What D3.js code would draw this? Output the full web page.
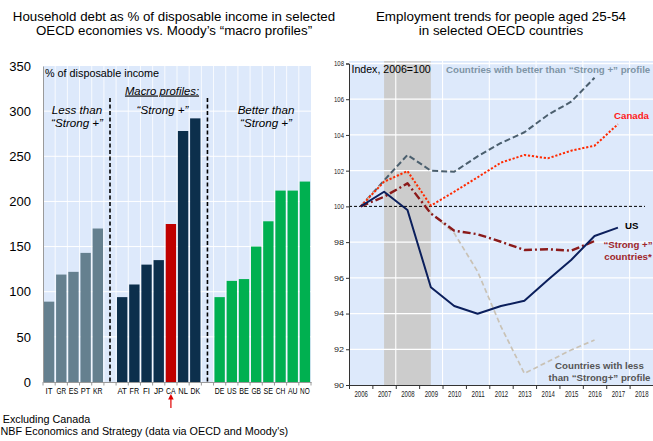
<!DOCTYPE html>
<html>
<head>
<meta charset="utf-8">
<script src="https://cdn.jsdelivr.net/npm/d3@7"></script>
<style>
  html, body { margin: 0; padding: 0; background: #fff; }
  svg { display: block; font-family: "Liberation Sans", Arial, sans-serif; }
</style>
</head>
<body>
<svg id="chart" width="653" height="441"></svg>
<script>
// ---------- Household debt by Moody's macro profile ----------
const lessCountries   = ["IT", "GR", "ES", "PT", "KR"];
const lessValues      = [89, 119, 122, 143, 170];
const strongCountries = ["AT", "FR", "FI", "JP", "CA", "NL", "DK"];
const strongValues    = [94, 108, 130, 135, 175, 278, 292];
const betterCountries = ["DE", "US", "BE", "GB", "SE", "CH", "AU", "NO"];
const betterValues    = [94, 112, 114, 150, 178, 212, 212, 222];
const debtTicks       = [0, 50, 100, 150, 200, 250, 300, 350];

// ---------- Employment, people aged 25-54 (index, 2006 = 100) ----------
const years          = [2006, 2007, 2008, 2009, 2010, 2011, 2012, 2013, 2014, 2015, 2016, 2017];
const betterSeries   = [100, 101.45, 102.88, 102.0, 101.94, 102.8, 103.55, 104.15, 105.12, 105.86, 107.2];
const canadaSeries   = [100, 101.38, 101.98, 100.04, 100.82, 101.63, 102.45, 102.88, 102.69, 103.12, 103.4, 104.6];
const strongSeries   = [100, 100.54, 101.29, 99.6, 98.64, 98.44, 98.02, 97.56, 97.6, 97.52, 98.06];
const usSeries       = [100, 100.82, 99.8, 95.47, 94.42, 93.99, 94.42, 94.72, 95.88, 97.0, 98.34, 98.81];
const lessSeries     = [100, 101.4, 101.9, 99.65, 98.5, 96.35, 93.27, 90.65, 91.3, 91.96, 92.52];
const indexTicks     = [90, 92, 94, 96, 98, 100, 102, 104, 106, 108];
const yearLabels     = [2006, 2007, 2008, 2009, 2010, 2011, 2012, 2013, 2014, 2015, 2016, 2017, 2018];
const recession      = [2007, 2009];

const svg = d3.select("#chart");
const BG = "#dde9fb";

// =============== Left panel: bar chart ===============
const slots = [...lessCountries, "_gap1", ...strongCountries, "_gap2", ...betterCountries];
const bars = [
  ...lessCountries.map((c, i) => ({ c, v: lessValues[i], fill: "#65808f" })),
  ...strongCountries.map((c, i) => ({ c, v: strongValues[i], fill: c === "CA" ? "#c00000" : "#0c2f4c" })),
  ...betterCountries.map((c, i) => ({ c, v: betterValues[i], fill: "#00b050" }))
];

const lx = d3.scaleBand().domain(slots).range([43, 311]).paddingInner(0.15).paddingOuter(0.075);
const ly = d3.scaleLinear().domain([0, 350]).range([382, 66]);
const gapHalf = (lx.step() - lx.bandwidth()) / 2;
const boundaries = slots.map(s => lx(s) - gapHalf).concat([lx(slots[slots.length - 1]) + lx.bandwidth() + gapHalf]);

const left = svg.append("g");
left.append("rect").attr("x", 43).attr("y", 66).attr("width", 311 - 43).attr("height", 382 - 66).attr("fill", BG);

// white grid
left.append("g").selectAll("line").data(debtTicks.filter(t => t > 0 && t < 350)).join("line")
  .attr("x1", 43).attr("x2", 311).attr("y1", d => ly(d)).attr("y2", d => ly(d))
  .attr("stroke", "#fff").attr("stroke-width", 1);
left.append("g").selectAll("line").data(boundaries.slice(1, -1)).join("line")
  .attr("x1", d => d).attr("x2", d => d).attr("y1", 66).attr("y2", 382)
  .attr("stroke", "#fff").attr("stroke-width", 0.8);

// bars
left.append("g").selectAll("rect").data(bars).join("rect")
  .attr("x", d => lx(d.c)).attr("width", lx.bandwidth())
  .attr("y", d => ly(d.v)).attr("height", d => ly(0) - ly(d.v))
  .attr("fill", d => d.fill);

// dashed group separators
["_gap1", "_gap2"].forEach(g => {
  const x = lx(g) + lx.bandwidth() / 2;
  left.append("line").attr("x1", x).attr("x2", x).attr("y1", 98).attr("y2", 382)
    .attr("stroke", "#000").attr("stroke-width", 1.6).attr("stroke-dasharray", "4,2.5");
});

// y axis
const lyAxis = left.append("g").attr("transform", "translate(43,0)")
  .call(d3.axisLeft(ly).tickValues(debtTicks).tickSize(0).tickPadding(12));
lyAxis.select(".domain").attr("stroke", "#9a9a9a");
lyAxis.selectAll("text").attr("font-size", 13).attr("fill", "#000").attr("font-family", "Liberation Sans, Arial, sans-serif");

// x axis: labels under bars, ticks at slot boundaries
const lxAxis = left.append("g").attr("transform", "translate(0,382)")
  .call(d3.axisBottom(lx).tickSize(0).tickPadding(6).tickFormat(d => d.startsWith("_") ? "" : d));
lxAxis.select(".domain").attr("stroke", "#9a9a9a");
lxAxis.selectAll("text").attr("font-size", 8.6).attr("fill", "#000").attr("font-family", "Liberation Sans, Arial, sans-serif")
  .filter(d => !d.startsWith("_"))
  .attr("textLength", d => d === "IT" || d === "FI" ? 7 : 9.6).attr("lengthAdjust", "spacingAndGlyphs");
left.append("g").selectAll("line").data(boundaries).join("line")
  .attr("x1", d => d).attr("x2", d => d).attr("y1", 382).attr("y2", 385.5)
  .attr("stroke", "#9a9a9a");

// marker under Canada
const caX = lx("CA") + lx.bandwidth() / 2;
left.append("line").attr("x1", caX).attr("x2", caX).attr("y1", 398).attr("y2", 408)
  .attr("stroke", "#e00000").attr("stroke-width", 1.2);
left.append("path").attr("d", `M${caX - 2.8},${399.5} L${caX},${394} L${caX + 2.8},${399.5} Z`).attr("fill", "#e00000");

// panel annotations
left.append("text").attr("x", 45).attr("y", 77).attr("font-size", 10.8).text("% of disposable income");
left.append("text").attr("x", 162).attr("y", 94.5).attr("text-anchor", "middle").attr("font-size", 11.3)
  .attr("font-style", "italic").attr("text-decoration", "underline").text("Macro profiles:");
const groupLabels = [
  { x: 77, lines: ["Less than", "\u201cStrong +\u201d"] },
  { x: 162.5, lines: ["\u201cStrong +\u201d"] },
  { x: 266, lines: ["Better than", "\u201cStrong +\u201d"] }
];
groupLabels.forEach(g => {
  g.lines.forEach((t, i) => {
    left.append("text").attr("x", g.x).attr("y", 114 + i * 13.3).attr("text-anchor", "middle")
      .attr("font-size", 11.6).attr("font-style", "italic").text(t);
  });
});

// title
left.append("text").attr("x", 174).attr("y", 20.5).attr("text-anchor", "middle").attr("font-size", 13.3)
  .text("Household debt as % of disposable income in selected");
left.append("text").attr("x", 174).attr("y", 35).attr("text-anchor", "middle").attr("font-size", 13.3)
  .text("OECD economies vs. Moody\u2019s \u201cmacro profiles\u201d");

// notes
svg.append("text").attr("x", 2.7).attr("y", 422.5).attr("font-size", 10.8).text("Excluding Canada");
svg.append("text").attr("x", 0.5).attr("y", 435).attr("font-size", 10.8)
  .text("NBF Economics and Strategy (data via OECD and Moody's)");

// =============== Right panel: line chart ===============
const rx = d3.scaleLinear().domain([2005.5, 2018.5]).range([349, 653]);
const ry = d3.scaleLinear().domain([90, 108]).range([385, 63.5]);

const right = svg.append("g");
right.append("rect").attr("x", 349).attr("y", 61).attr("width", 653 - 349).attr("height", 385 - 61).attr("fill", BG);
right.append("rect").attr("x", rx(recession[0])).attr("y", 61)
  .attr("width", rx(recession[1]) - rx(recession[0])).attr("height", 385 - 61).attr("fill", "#cccccc");

right.append("g").selectAll("line").data(indexTicks.filter(t => t > 90 && t !== 100)).join("line")
  .attr("x1", 349).attr("x2", 653).attr("y1", d => ry(d)).attr("y2", d => ry(d))
  .attr("stroke", "#fff").attr("stroke-width", 1.3);
right.append("g").selectAll("line").data([2007.5, 2009.5, 2011.5, 2013.5, 2015.5, 2017.5]).join("line")
  .attr("x1", d => rx(d)).attr("x2", d => rx(d)).attr("y1", 61).attr("y2", 385)
  .attr("stroke", "#fff").attr("stroke-width", 1.1);

// reference line at 100
right.append("line").attr("x1", 349).attr("x2", 645).attr("y1", ry(100)).attr("y2", ry(100))
  .attr("stroke", "#000").attr("stroke-width", 1).attr("stroke-dasharray", "3,2");

const line = d3.line().x((d, i) => rx(years[i])).y(d => ry(d));
const series = [
  { data: betterSeries, color: "#4b5f6e", width: 2, dash: "6,3" },
  { data: lessSeries,   color: "#c9c2b5", width: 1.7, dash: "5,3" },
  { data: canadaSeries, color: "#ff2a00", width: 2, dash: "2.2,1.8" },
  { data: strongSeries, color: "#8b1a1a", width: 2.4, dash: "8,3,2,3" },
  { data: usSeries,     color: "#0b1f5c", width: 2, dash: null }
];
series.forEach(s => {
  right.append("path").datum(s.data).attr("d", line).attr("fill", "none")
    .attr("stroke", s.color).attr("stroke-width", s.width)
    .attr("stroke-dasharray", s.dash).attr("stroke-linejoin", "round");
});

// axes
const ryAxis = right.append("g").attr("transform", "translate(349,0)")
  .call(d3.axisLeft(ry).tickValues(indexTicks).tickSize(3).tickPadding(2));
ryAxis.select(".domain").attr("stroke", "#333");
ryAxis.selectAll(".tick line").attr("stroke", "#333");
ryAxis.selectAll("text").attr("font-size", 7.5).attr("fill", "#222")
  .attr("font-family", "Liberation Sans, Arial, sans-serif")
  .attr("textLength", 10).attr("lengthAdjust", "spacingAndGlyphs");

const rxTicks = right.append("g").attr("transform", "translate(0,385)")
  .call(d3.axisBottom(rx).tickValues(d3.range(2005.5, 2019, 1)).tickSize(4).tickFormat(""));
rxTicks.select(".domain").attr("stroke", "#333");
rxTicks.selectAll(".tick line").attr("stroke", "#333");
const rxLabels = right.append("g").attr("transform", "translate(0,385)")
  .call(d3.axisBottom(rx).tickValues(yearLabels).tickSize(0).tickPadding(6.5).tickFormat(d3.format("d")));
rxLabels.select(".domain").remove();
rxLabels.selectAll("text").attr("font-size", 8.3).attr("fill", "#222")
  .attr("font-family", "Liberation Sans, Arial, sans-serif")
  .attr("textLength", 13.4).attr("lengthAdjust", "spacingAndGlyphs");

// series labels
right.append("text").attr("x", 351.5).attr("y", 72.5).attr("font-size", 10.6).text("Index, 2006=100");
const bold = (x, y, txt, color, anchor) =>
  right.append("text").attr("x", x).attr("y", y).attr("font-size", 9.7).attr("font-weight", "bold")
    .attr("fill", color).attr("text-anchor", anchor || "start").text(txt);
bold(446, 73, "Countries with better than \u201cStrong +\u201d profile", "#7f95a6");
bold(614, 118.5, "Canada", "#ff1a1a");
bold(625, 229, "US", "#000");
bold(628, 248, "\u201cStrong +\u201d", "#a0262a", "middle");
bold(628, 259.5, "countries*", "#a0262a", "middle");
bold(599.5, 369, "Countries with less", "#555", "middle");
bold(599.5, 381, "than \u201cStrong+\u201d profile", "#555", "middle");

// title
right.append("text").attr("x", 501).attr("y", 20.5).attr("text-anchor", "middle").attr("font-size", 13.4)
  .text("Employment trends for people aged 25-54");
right.append("text").attr("x", 501).attr("y", 35).attr("text-anchor", "middle").attr("font-size", 13.4)
  .text("in selected OECD countries");
</script>
</body>
</html>
